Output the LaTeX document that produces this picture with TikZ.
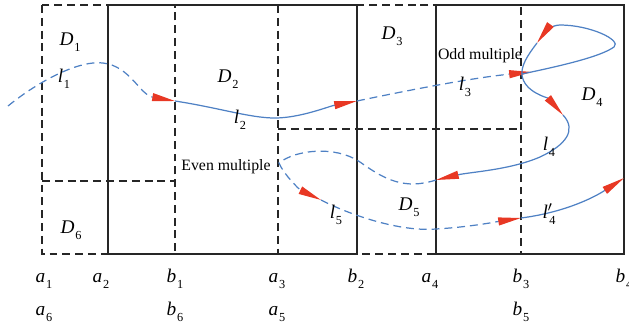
\documentclass[tikz,border=0pt]{standalone}
\usepackage{fontspec}
\setmainfont{Liberation Serif}
\usetikzlibrary{arrows.meta}
\definecolor{curveblue}{RGB}{79,129,196}
\definecolor{tipred}{RGB}{232,56,36}
\newcommand{\symb}[2]{\textit{#1}\kern0.4pt\raisebox{-3.6pt}{\fontsize{7}{8}\selectfont #2}}

\tikzset{
  frame/.style={black!85,line width=0.8pt},
  framedash/.style={frame,dash pattern=on 4.5pt off 2.8pt},
  curve/.style={curveblue,line width=0.7pt},
  curvedash/.style={curve,dash pattern=on 4.5pt off 2.8pt},
  redhead/.style={-{Triangle[length=13pt,width=4.5pt,color=tipred]}},
  lbl/.style={font=\fontsize{11}{13}\selectfont,anchor=base,inner sep=0pt},
  note/.style={font=\fontsize{9}{11}\selectfont,anchor=base,inner sep=0pt}
}

\begin{document}
\begin{tikzpicture}[x=0.02cm,y=-0.02cm]
\useasboundingbox (0,0) rectangle (629,328);

% regions
\draw[frame] (108,5) rectangle (357,254);
\draw[frame] (436,5) rectangle (624,254);
\draw[framedash] (42,5) rectangle (175,254);
\draw[framedash] (42,181) -- (175,181);
\draw[framedash] (278,5) rectangle (521,254);
\draw[framedash] (278,129) -- (521,129);

% curves l1 .. l5
\draw[curvedash,redhead] (8,106) .. controls (40,80) and (80,60) .. (103,63) .. controls (130,66) and (140,95) .. (175,101);
\draw[curve,redhead] (175,101) .. controls (220,108) and (250,118) .. (275,118) .. controls (300,118) and (330,106) .. (357,101);
\draw[curvedash,redhead] (357,101) .. controls (400,92) and (470,78) .. (532,72);
\draw[curve,redhead] (522,74) .. controls (560,66) and (600,57) .. (614,47) .. controls (622,40) and (590,25) .. (560,25) .. controls (552,25) and (545,32) .. (537,43);
\draw[curve,redhead] (537,43) .. controls (527,56) and (521,66) .. (522,75) .. controls (524,92) and (548,98) .. (563,115);
\draw[curve,redhead] (563,115) .. controls (577,130) and (566,145) .. (540,157) .. controls (510,170) and (470,172) .. (436,180);
\draw[curvedash,redhead] (436,180) .. controls (405,190) and (385,180) .. (360,162) .. controls (335,145) and (295,150) .. (279,163) .. controls (284,175) and (300,190) .. (321,200);
\draw[curvedash,redhead] (321,200) .. controls (350,215) and (400,232) .. (436,229) .. controls (470,227) and (495,222) .. (521,218);
\draw[curve,redhead] (521,218) .. controls (560,213) and (590,200) .. (624,178);

% region and curve labels
\node[lbl] (D1) at (70,45) {\symb{D}{1}};
\node[lbl] (l1) at (64,82) {\symb{l}{1}};
\node[lbl] (D2) at (228,82) {\symb{D}{2}};
\node[lbl] (l2) at (240,123) {\symb{l}{2}};
\node[lbl] (D3) at (392,39) {\symb{D}{3}};
\node[note] (odd) at (480,59) {Odd multiple};
\node[lbl] (l3) at (465,90) {\symb{l}{3}};
\node[lbl] (D4) at (592,100) {\symb{D}{4}};
\node[lbl] (l4) at (549,150) {\symb{l}{4}};
\node[note] (even) at (226,170) {Even multiple};
\node[lbl] (D5) at (409,210) {\symb{D}{5}};
\node[lbl] (l5) at (336,218) {\symb{l}{5}};
\node[lbl] (l4p) at (549,218) {\textit{l}$'$\kern-2pt\raisebox{-3.6pt}{\fontsize{7}{8}\selectfont 4}};
\node[lbl] (D6) at (71,233) {\symb{D}{6}};

% interval ends
\node[lbl] (a1) at (44,282) {\symb{a}{1}};
\node[lbl] (a2) at (101,282) {\symb{a}{2}};
\node[lbl] (b1) at (175,282) {\symb{b}{1}};
\node[lbl] (a3) at (277,282) {\symb{a}{3}};
\node[lbl] (b2) at (356,282) {\symb{b}{2}};
\node[lbl] (a4) at (430,282) {\symb{a}{4}};
\node[lbl] (b3) at (521,282) {\symb{b}{3}};
\node[lbl] (b4) at (624,282) {\symb{b}{4}};
\node[lbl] (a6) at (44,315) {\symb{a}{6}};
\node[lbl] (b6) at (175,315) {\symb{b}{6}};
\node[lbl] (a5) at (277,315) {\symb{a}{5}};
\node[lbl] (b5) at (521,315) {\symb{b}{5}};

\end{tikzpicture}
\end{document}
